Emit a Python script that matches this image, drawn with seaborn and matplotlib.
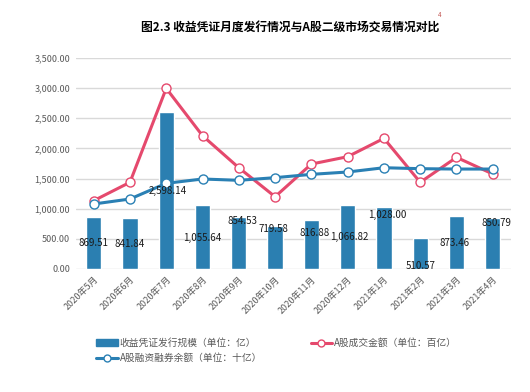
import numpy as np
import pandas as pd
import matplotlib
matplotlib.use("Agg")
import matplotlib.pyplot as plt
import seaborn as sns
from matplotlib.patches import Patch
from matplotlib.lines import Line2D

months = ["2020年5月", "2020年6月", "2020年7月", "2020年8月", "2020年9月", "2020年10月",
          "2020年11月", "2020年12月", "2021年1月", "2021年2月", "2021年3月", "2021年4月"]
issuance = [869.51, 841.84, 2598.14, 1055.64, 854.53, 719.58,
            816.88, 1066.82, 1028.00, 510.57, 873.46, 850.79]
turnover = [1133, 1438, 2997, 2211, 1680, 1199, 1741, 1863, 2167, 1438, 1852, 1576]
margin = [1078, 1161, 1421, 1493, 1471, 1515, 1570, 1609, 1680, 1664, 1658, 1658]
yticks = [0, 500, 1000, 1500, 2000, 2500, 3000, 3500]

# where the (hand-dragged) data labels sit, in axis units
label_y = [426, 410, 1293, 519, 796, 663, 592, 526, 896, 50, 426, 768]
label_dx = [0, 0, 0.05, 0, 0.1, -0.05, 0.1, 0.05, 0.1, 0, -0.05, 0.1]

BAR = "#2b7fb1"
RED = "#e5496d"
LINE_BLUE = "#2a80b4"
GRAY = "#595959"

sns.set_style("white")
plt.rcParams["font.family"] = ["Noto Sans CJK SC", "DejaVu Sans"]

df = pd.DataFrame({"month": months, "issuance": issuance,
                   "turnover": turnover, "margin": margin, "pos": np.arange(len(months))})

fig = plt.figure(figsize=(5.3, 3.92), dpi=100)
ax = fig.add_axes([0.1425, 0.3138, 0.8215, 0.5382])

sns.barplot(data=df, x="pos", y="issuance", color=BAR, width=0.42,
            saturation=1, ax=ax, zorder=2)
sns.lineplot(data=df, x="pos", y="turnover", color=RED, linewidth=2.2,
             marker="o", markersize=6.5, markerfacecolor="white",
             markeredgecolor=RED, markeredgewidth=1.0, ax=ax, zorder=3)
sns.lineplot(data=df, x="pos", y="margin", color=LINE_BLUE, linewidth=2.2,
             marker="o", markersize=6.5, markerfacecolor="white",
             markeredgecolor=LINE_BLUE, markeredgewidth=1.0, ax=ax, zorder=4)

for i, v in enumerate(issuance):
    ax.text(i + label_dx[i], label_y[i], f"{v:,.2f}", ha="center", va="center",
            fontsize=7, color="#1a1a1a", zorder=5)

ax.set_xlim(-0.5, len(months) - 0.5)
ax.set_ylim(0, 3500)
ax.set_yticks(yticks)
ax.set_yticklabels([f"{t:,.2f}" for t in yticks], fontsize=6.5, color=GRAY)
ax.set_xticks(range(len(months)))
ax.set_xticklabels(months, rotation=45, ha="right", rotation_mode="anchor",
                   fontsize=6.5, color=GRAY)
ax.set_xlabel("")
ax.set_ylabel("")
ax.tick_params(length=0, pad=4)
ax.grid(axis="y", color="#d9d9d9", linewidth=1, zorder=0)
ax.set_axisbelow(True)
for s in ax.spines.values():
    s.set_visible(False)

fig.text(0.547, 0.93, "图2.3 收益凭证月度发行情况与A股二级市场交易情况对比",
         ha="center", va="center", fontsize=8.5, fontweight="bold", color="black")
fig.text(0.826, 0.962, "4", fontsize=4.5, color="#c0504d", ha="left", va="center")

handles = [
    Patch(facecolor=BAR, edgecolor=BAR),
    Line2D([], [], color=LINE_BLUE, linewidth=2.2, marker="o", markersize=5,
           markerfacecolor="white", markeredgecolor=LINE_BLUE),
    Line2D([], [], color=RED, linewidth=2.2, marker="o", markersize=5,
           markerfacecolor="white", markeredgecolor=RED),
]
labels = ["收益凭证发行规模（单位：亿）", "A股融资融券余额（单位：十亿）", "A股成交金额（单位：百亿）"]
leg = fig.legend(handles, labels, loc="upper left", bbox_to_anchor=(0.165, 0.16),
                 ncol=2, frameon=False, fontsize=7, handlelength=2.2,
                 handletextpad=0.2, columnspacing=5.0, labelspacing=0.55)
for t in leg.get_texts():
    t.set_color(GRAY)

fig.savefig("out.png", dpi=100)
